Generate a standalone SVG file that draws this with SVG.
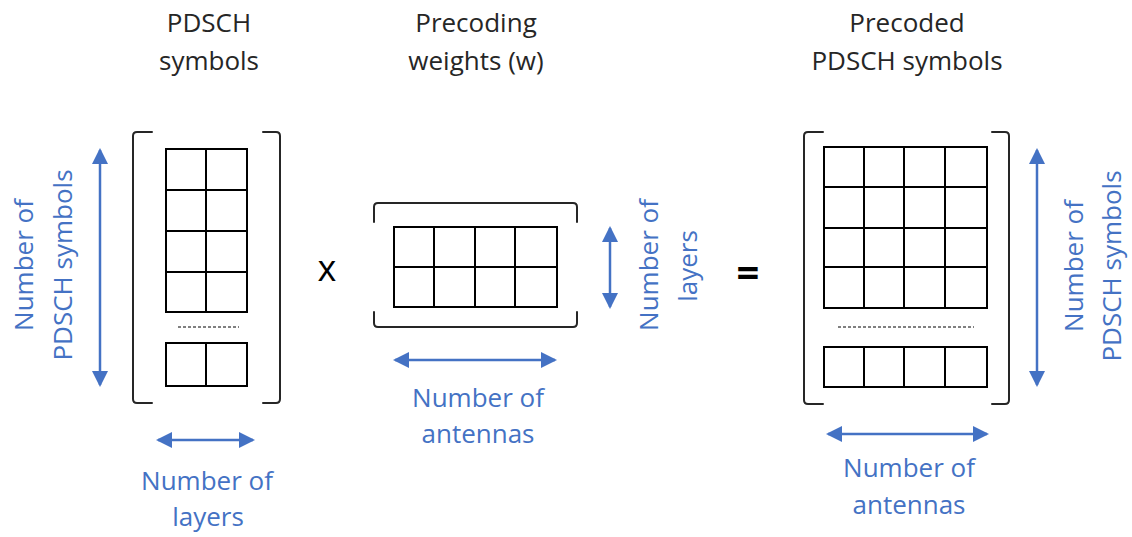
<svg xmlns="http://www.w3.org/2000/svg" width="1132" height="537" viewBox="0 0 1132 537">
<defs>
<marker id="ah" markerUnits="userSpaceOnUse" markerWidth="16" markerHeight="16" viewBox="0 0 16 16" refX="14" refY="8" orient="auto-start-reverse">
<path d="M0,0 L16,8 L0,16 Z" fill="#4472C4"/>
</marker>
</defs>
<style>
.t{font-family:"Open Sans","Liberation Sans",sans-serif;font-size:26px;fill:#262626;text-anchor:middle}
.b{font-family:"Open Sans","Liberation Sans",sans-serif;font-size:26px;fill:#4472C4;text-anchor:middle}
.op{font-family:"Open Sans","Liberation Sans",sans-serif;fill:#000;text-anchor:middle}
.g{fill:none;stroke:#000;stroke-width:2}
.br{fill:none;stroke:#262626;stroke-width:2;stroke-linecap:round;stroke-linejoin:round}
.d{stroke:#000;stroke-width:1;stroke-dasharray:3,2}
.a{stroke:#4472C4;stroke-width:2.5;fill:none;marker-start:url(#ah);marker-end:url(#ah)}
</style>
<rect width="1132" height="537" fill="#fff"/>

<g id="pdsch">
<text class="t" x="209" y="32">PDSCH</text>
<text class="t" x="209" y="70">symbols</text>
<path class="br" d="M152,132 H137 Q133,132 133,136 V399 Q133,403 137,403 H152"/>
<path class="br" d="M263,132 H276 Q280,132 280,136 V399 Q280,403 276,403 H263"/>
<rect class="g" x="166" y="149" width="81" height="163"/>
<path class="g" d="M206,149 V312 M166,190 H247 M166,231 H247 M166,272 H247"/>
<line class="d" x1="178" y1="327" x2="239" y2="327"/>
<rect class="g" x="166" y="343" width="81" height="43"/>
<path class="g" d="M206,343 V386"/>
</g>

<g id="op-x"><text class="op" x="327" y="281" style="font-size:36px;font-weight:500">x</text></g>

<g id="weights">
<text class="t" x="476" y="32">Precoding</text>
<text class="t" x="476" y="70">weights (w)</text>
<path class="br" d="M374,222 V207 Q374,203 378,203 H573 Q577,203 577,207 V222"/>
<path class="br" d="M374,312 V323 Q374,327 378,327 H573 Q577,327 577,323 V312"/>
<rect class="g" x="394" y="227" width="163" height="80"/>
<path class="g" d="M434,227 V307 M475,227 V307 M515,227 V307 M394,267 H557"/>
</g>

<g id="op-eq"><text class="op" x="748" y="287" style="font-size:40px;font-weight:700">=</text></g>

<g id="precoded">
<text class="t" x="907" y="32">Precoded</text>
<text class="t" x="907" y="70">PDSCH symbols</text>
<path class="br" d="M823,132 H808 Q804,132 804,136 V400 Q804,404 808,404 H823"/>
<path class="br" d="M992,132 H1005 Q1009,132 1009,136 V400 Q1009,404 1005,404 H992"/>
<rect class="g" x="824" y="147" width="163" height="161"/>
<path class="g" d="M864,147 V308 M904,147 V308 M945,147 V308 M824,187 H987 M824,228 H987 M824,267 H987"/>
<line class="d" x1="838" y1="327" x2="974" y2="327"/>
<rect class="g" x="824" y="347" width="163" height="40"/>
<path class="g" d="M864,347 V387 M904,347 V387 M945,347 V387"/>
</g>

<g id="connectors">
<line class="a" x1="100" y1="150" x2="100" y2="385"/>
<line class="a" x1="158" y1="440" x2="253" y2="440"/>
<line class="a" x1="610" y1="228" x2="610" y2="307"/>
<line class="a" x1="395" y1="360" x2="555" y2="360"/>
<line class="a" x1="1037" y1="150" x2="1037" y2="385"/>
<line class="a" x1="828" y1="434" x2="987" y2="434"/>
</g>

<g id="labels">
<text class="b" transform="translate(33,265) rotate(-90)">Number of</text>
<text class="b" transform="translate(72,265) rotate(-90)">PDSCH symbols</text>
<text class="b" x="207" y="490">Number of</text>
<text class="b" x="208" y="526">layers</text>
<text class="b" transform="translate(658,265) rotate(-90)">Number of</text>
<text class="b" transform="translate(697,266) rotate(-90)">layers</text>
<text class="b" x="478" y="407">Number of</text>
<text class="b" x="478" y="443">antennas</text>
<text class="b" transform="translate(1083,266) rotate(-90)">Number of</text>
<text class="b" transform="translate(1121,266) rotate(-90)">PDSCH symbols</text>
<text class="b" x="909" y="477">Number of</text>
<text class="b" x="909" y="514">antennas</text>
</g>
</svg>
